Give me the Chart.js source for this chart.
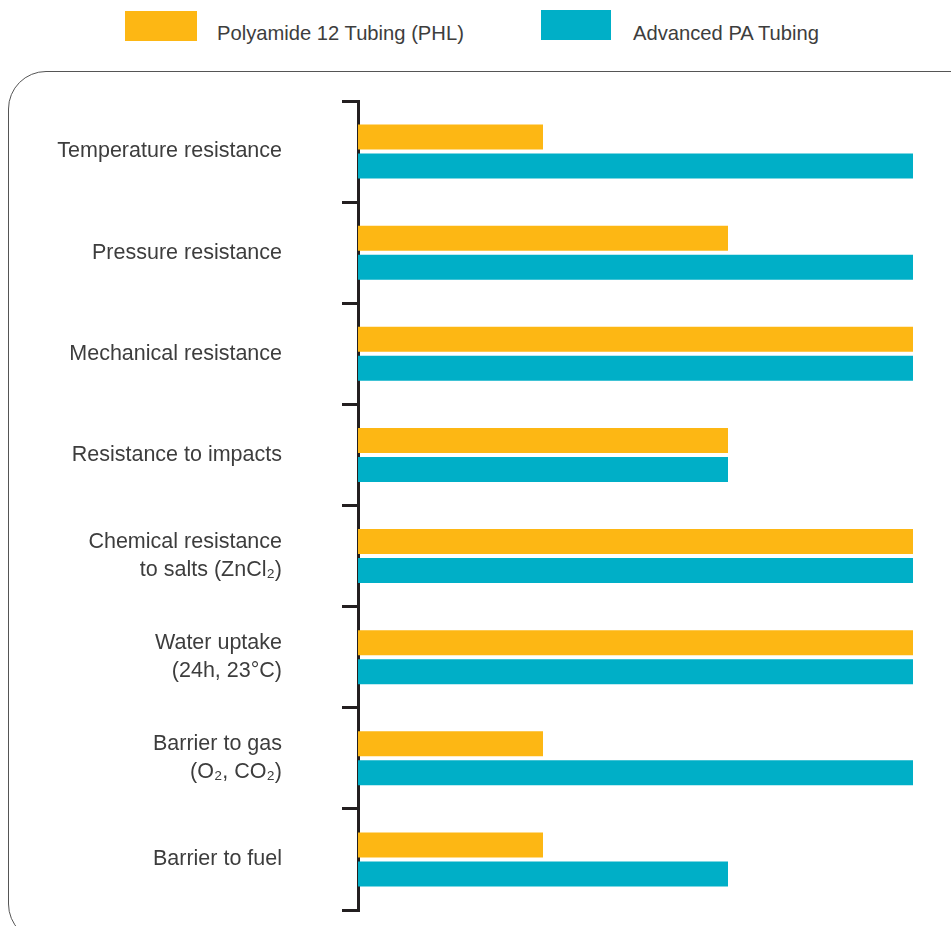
<!DOCTYPE html>
<html>
<head>
<meta charset="utf-8">
<script src="https://cdn.jsdelivr.net/npm/chart.js@4.4.1/dist/chart.umd.min.js"></script>
<style>
  html, body { margin: 0; padding: 0; background: #fff; overflow: hidden; }
  #wrap { position: relative; width: 951px; height: 926px; overflow: hidden; font-family: "Liberation Sans", Arial, sans-serif; }
  #frame { position: absolute; left: 8px; top: 71px; width: 990px; height: 871px; border: 1.5px solid #555; border-radius: 38px; box-sizing: border-box; }
  .lbox { position: absolute; width: 72px; height: 30px; }
  .ltext { position: absolute; font-size: 20.2px; color: #3d3d3d; line-height: 24px; white-space: nowrap; }
  canvas { position: absolute; left: 0; top: 0; }
</style>
</head>
<body>
<div id="wrap">
  <div id="frame"></div>
  <div class="lbox" style="left:125px;top:11px;background:#FDB714"></div>
  <div class="ltext" style="left:217px;top:21px">Polyamide 12 Tubing (PHL)</div>
  <div class="lbox" style="left:541px;top:10px;width:70px;background:#00AFC7"></div>
  <div class="ltext" style="left:633px;top:21px">Advanced PA Tubing</div>
  <canvas id="c" width="951" height="926"></canvas>
</div>
<script>
const categories = [
  ["Temperature resistance"],
  ["Pressure resistance"],
  ["Mechanical resistance"],
  ["Resistance to impacts"],
  ["Chemical resistance", "to salts (ZnCl\u2082)"],
  ["Water uptake", "(24h, 23°C)"],
  ["Barrier to gas", "(O\u2082, CO\u2082)"],
  ["Barrier to fuel"]
];
const seriesNames = ["Polyamide 12 Tubing (PHL)", "Advanced PA Tubing"];
const phlValues = [1, 2, 3, 2, 3, 3, 1, 1];
const advancedValues = [3, 3, 3, 2, 3, 3, 3, 2];
const seriesColors = ["#FDB714", "#00AFC7"];

const ch = new Chart(document.getElementById('c'), {
  type: 'bar',
  data: {
    labels: categories,
    datasets: [
      { label: seriesNames[0], data: phlValues, backgroundColor: seriesColors[0], barPercentage: 0.86, categoryPercentage: 0.575 },
      { label: seriesNames[1], data: advancedValues, backgroundColor: seriesColors[1], barPercentage: 0.86, categoryPercentage: 0.575 }
    ]
  },
  options: {
    indexAxis: 'y',
    responsive: false,
    animation: false,
    layout: { padding: { left: 0, right: 38, top: 101, bottom: 16 } },
    plugins: { legend: { display: false }, tooltip: { enabled: false } },
    scales: {
      x: { display: false, min: 0, max: 3 },
      y: {
        z: 1,
        afterFit: (s) => { s.width = 358; s.paddingTop = 0; s.paddingBottom = 0; },
        grid: { offset: true, drawOnChartArea: false, drawTicks: true, tickLength: 16, color: '#231f20', lineWidth: 3 },
        border: { display: true, color: '#231f20', width: 3 },
        ticks: { padding: 60, color: '#3d3d3d', font: { family: '"Liberation Sans", Arial, sans-serif', size: 21.5, lineHeight: 1.32 } }
      }
    }
  }
});
</script>
</body>
</html>
